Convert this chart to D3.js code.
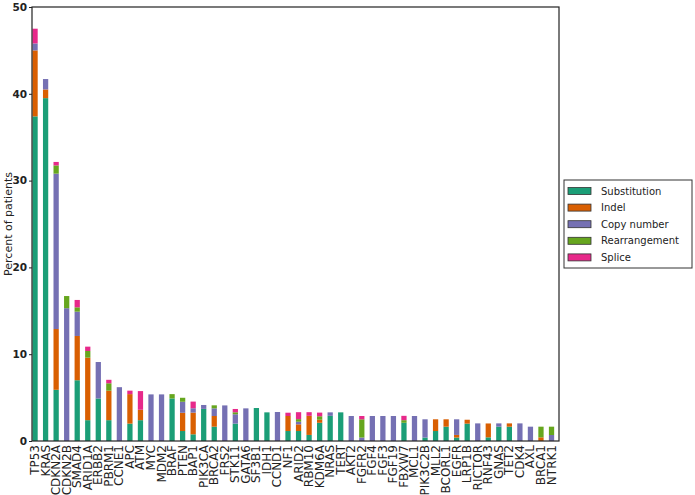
<!DOCTYPE html>
<html>
<head>
<meta charset="utf-8">
<script src="https://cdn.jsdelivr.net/npm/d3@7"></script>
<style>
  html, body { margin: 0; padding: 0; background: #fff; }
  text { font-family: "DejaVu Sans", sans-serif; }
</style>
</head>
<body>
<svg id="chart" width="695" height="495"></svg>
<script>
const genes = ["TP53","KRAS","CDKN2A","CDKN2B","SMAD4","ARID1A","ERBB2","PBRM1","CCNE1","APC",
  "ATM","MYC","MDM2","BRAF","PTEN","BAP1","PIK3CA","BRCA2","FRS2","STK11",
  "GATA6","SF3B1","IDH1","CCND1","NF1","ARID2","RBM10","KDM6A","NRAS","TERT",
  "AKT2","FGFR2","FGF4","FGF3","FGF19","FBXW7","MCL1","PIK3C2B","MLL2","BCORL1",
  "EGFR","LRP1B","RICTOR","RNF43","GNAS","TET2","CDK4","AXL","BRCA1","NTRK1"];

const substitution = [37.4,39.5,5.9,0,7.0,2.4,4.9,2.4,0,2.0,
  2.4,0,0,4.9,1.15,0.77,3.7,1.65,0,2.0,
  0,3.8,3.3,0,1.15,1.15,0.7,2.1,2.9,3.3,
  0,0,0,0,0,2.1,0,0.4,1.15,1.65,
  0.4,2.0,0,0.42,1.65,1.65,0,0,0,0];

const indel = [7.6,1.0,7.0,0,5.1,7.2,0,3.4,0,3.4,
  1.2,0,0,0,2.1,2.5,0,1.23,0,0,
  0,0,0,0,1.73,0.77,2.2,0.35,0,0,
  0,0,0,0,0,0,0,0,1.35,0.85,
  0.3,0.45,0,1.6,0,0.38,0,0,0.42,0];

const copyNumber = [0.8,1.2,17.9,15.3,2.8,0,4.2,0,6.2,0,
  0,5.37,5.37,0,1.27,0.5,0.45,0.88,4.1,1.08,
  3.76,0,0,3.34,0,0.3,0,0,0.4,0,
  2.88,0.4,2.88,2.88,2.88,0,2.88,2.1,0,0,
  1.8,0,2.03,0,0.38,0,2.03,1.65,0,0.69];

const rearrangement = [0,0,0.95,1.4,0.5,0.77,0,0.85,0,0,
  0,0,0,0.5,0.46,0,0,0.35,0,0.23,
  0,0,0,0,0,0.3,0,0.4,0,0,
  0,2.1,0,0,0,0.3,0,0,0,0,
  0,0,0,0,0,0,0,0,1.23,0.96];

const splice = [1.7,0,0.4,0,0.85,0.5,0,0.4,0,0.4,
  2.15,0,0,0,0,0.77,0,0,0,0.38,
  0,0,0,0,0.38,0.8,0.42,0.42,0,0,
  0,0.38,0,0,0,0.5,0,0,0,0,
  0,0,0,0,0,0,0,0,0,0];

const seriesNames = ["Substitution","Indel","Copy number","Rearrangement","Splice"];
const seriesColors = ["#1b9e77","#d95f02","#7570b3","#66a61e","#e7298a"];
const yTicks = [0,10,20,30,40,50];

(function () {
const seriesArrays = [substitution, indel, copyNumber, rearrangement, splice];
const rows = genes.map((g, i) => {
  const r = { gene: g, idx: i };
  seriesNames.forEach((s, k) => { r[s] = seriesArrays[k][i]; });
  return r;
});

const svg = d3.select("#chart");
const pL = 32, pR = 559, pT = 7, pB = 441;

const x = d3.scaleLinear().domain([0, genes.length]).range([pL, pR]);
const y = d3.scaleLinear().domain([0, 50]).range([pB, pT]);
const barW = 0.5;
const bw = x(barW) - x(0);

const stacked = d3.stack().keys(seriesNames)(rows);

stacked.forEach((layer, k) => {
  svg.append("g")
    .selectAll("rect")
    .data(layer)
    .join("rect")
    .attr("x", d => x(d.data.idx + 0.04))
    .attr("width", bw)
    .attr("y", d => y(d[1]))
    .attr("height", d => Math.max(0, y(d[0]) - y(d[1])))
    .attr("fill", seriesColors[k]);
});

// frame
svg.append("rect")
  .attr("x", pL).attr("y", pT)
  .attr("width", pR - pL).attr("height", pB - pT)
  .attr("fill", "none").attr("stroke", "#222").attr("stroke-width", 1.2);

// y axis
const yAxis = d3.axisLeft(y).tickValues(yTicks).tickSize(3).tickPadding(2).tickFormat(d3.format("d"));
const yg = svg.append("g").attr("transform", `translate(${pL},0)`).call(yAxis);
yg.select(".domain").remove();
yg.selectAll("text").attr("font-size", 10.5).attr("fill", "#222").attr("font-weight", "bold");
yg.selectAll("line").attr("stroke", "#222");

// x labels
svg.append("g").selectAll("text")
  .data(genes)
  .join("text")
  .attr("transform", (d, i) => `translate(${x(i + 0.04) + bw / 2 + 4},${pB + 4}) rotate(-90)`)
  .attr("text-anchor", "end")
  .attr("font-size", 12)
  .attr("fill", "#222")
  .text(d => d);

// y label
svg.append("text")
  .attr("transform", `translate(12,${(pT + pB) / 2}) rotate(-90)`)
  .attr("text-anchor", "middle")
  .attr("font-size", 11)
  .attr("fill", "#222")
  .text("Percent of patients");

// legend
const lg = svg.append("g");
lg.append("rect")
  .attr("x", 564).attr("y", 180).attr("width", 128).attr("height", 88)
  .attr("fill", "#fff").attr("stroke", "#333").attr("stroke-width", 1);
seriesNames.forEach((s, k) => {
  const yy = 191 + k * 16.6;
  lg.append("rect")
    .attr("x", 568).attr("y", yy - 3.5).attr("width", 23).attr("height", 7)
    .attr("fill", seriesColors[k]).attr("stroke", "#333").attr("stroke-width", 0.8);
  lg.append("text")
    .attr("x", 601).attr("y", yy + 3.5)
    .attr("font-size", 10).attr("fill", "#222")
    .text(s);
});
})();
</script>
</body>
</html>
